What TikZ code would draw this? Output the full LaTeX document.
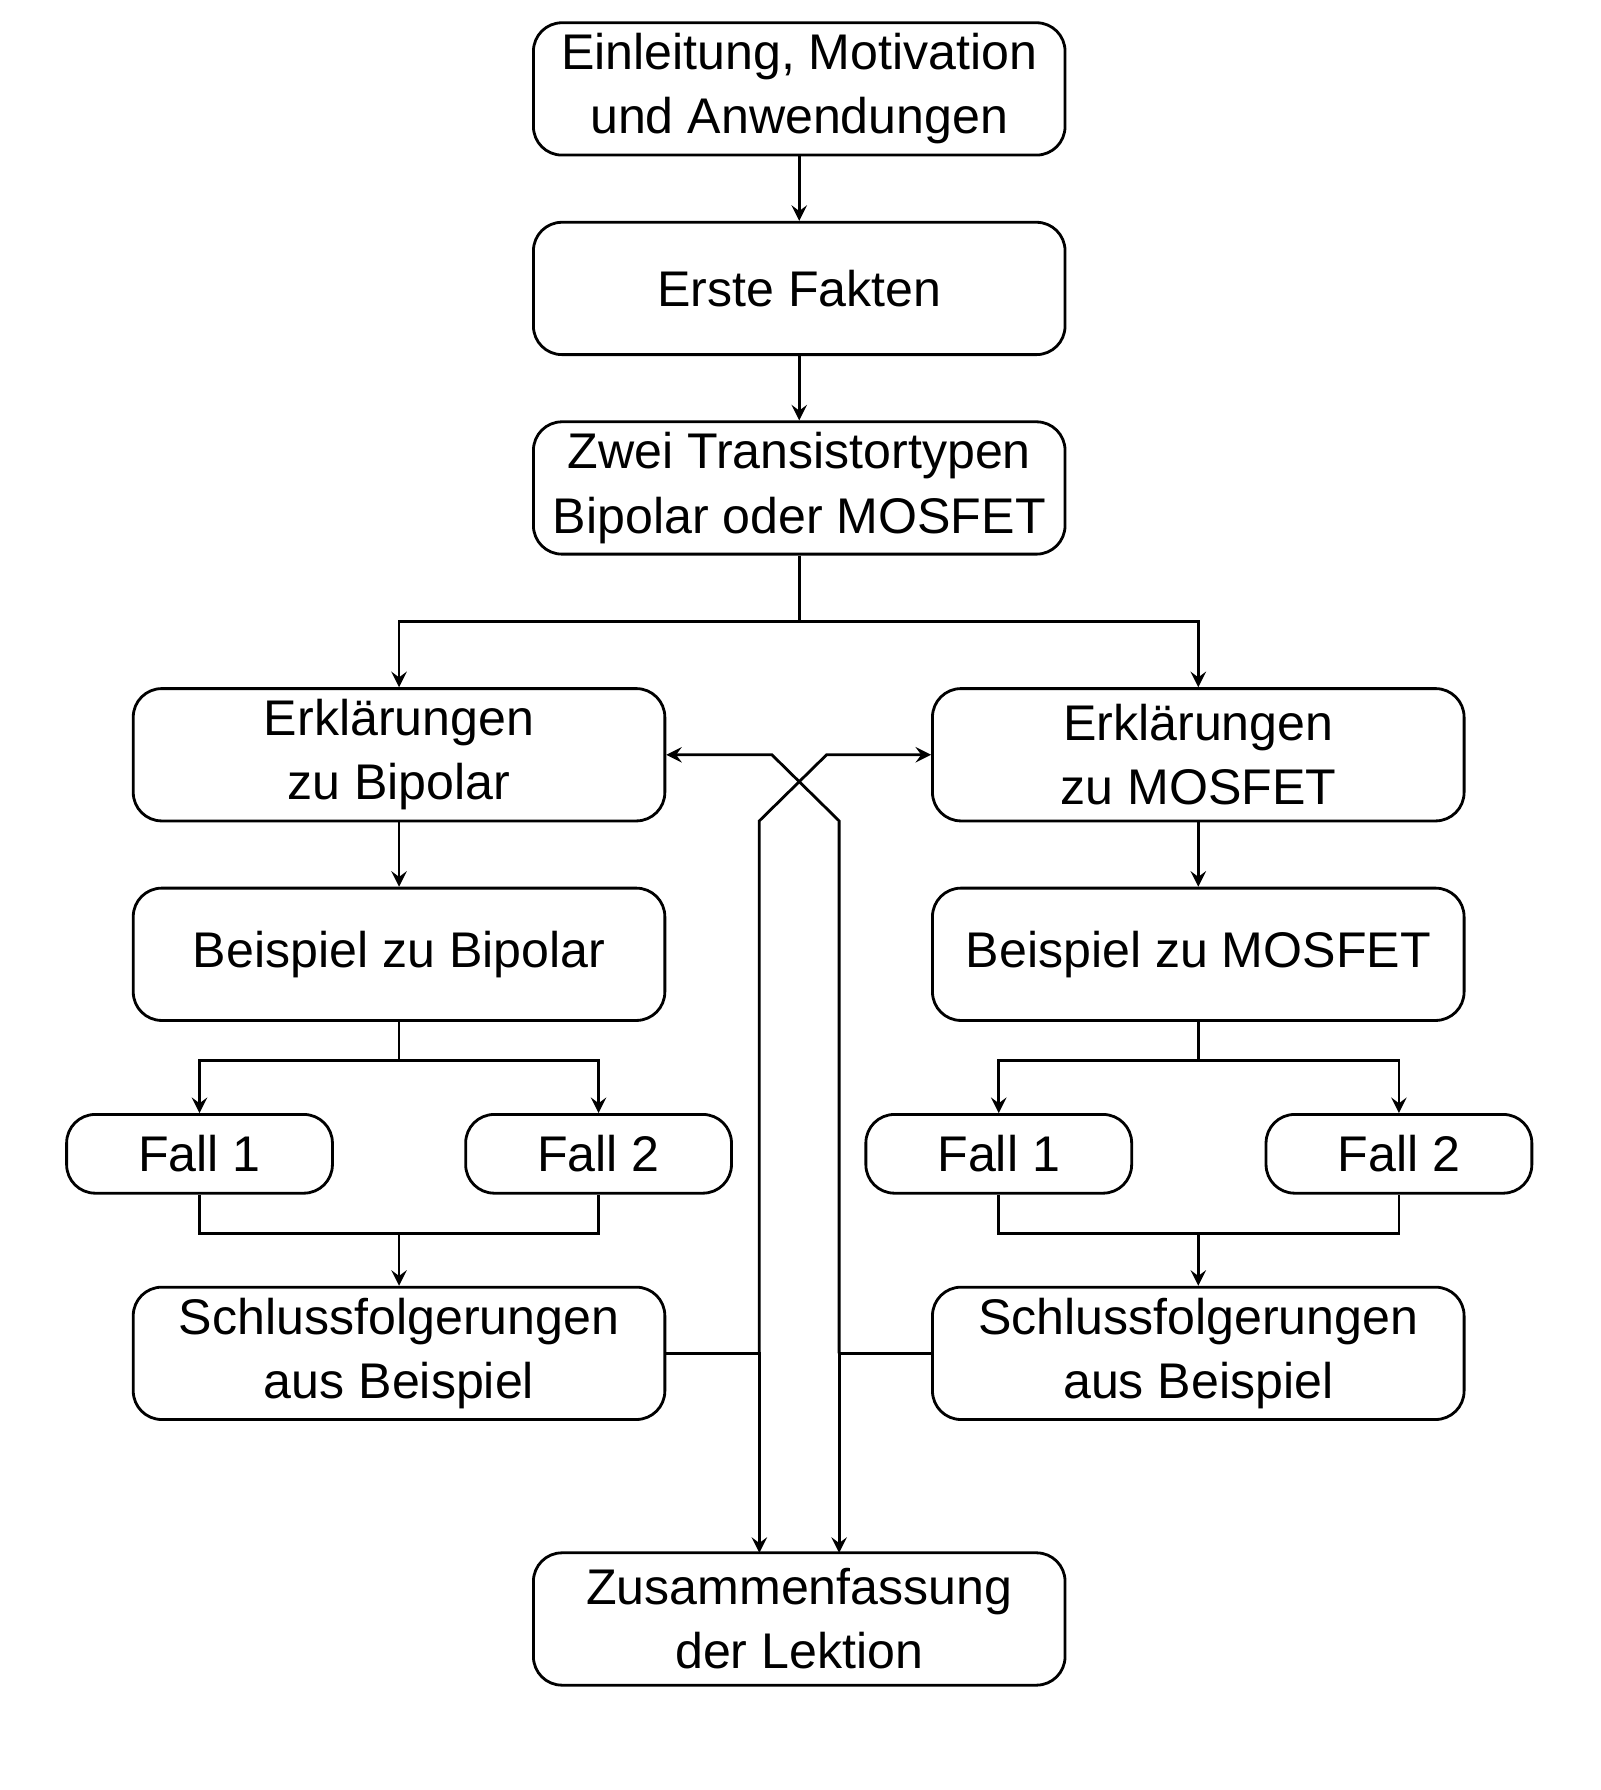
\documentclass[tikz,border=0pt]{standalone}
\usepackage{fontspec}
\setmainfont{Liberation Sans}
\usetikzlibrary{positioning}

\begin{document}
\begin{tikzpicture}[x=0.01cm,y=-0.01cm,line width=0.7pt,>=stealth]
    \tikzstyle{box}=[draw,rounded corners=0.25cm,minimum width=4.66cm,minimum height=1.16cm,align=center,inner sep=0pt,font=\fontsize{12.5}{16}\selectfont]
    \tikzstyle{fall}=[box,minimum width=2.33cm,minimum height=0.69cm]
    \useasboundingbox (0,0) rectangle (1404,1570);
    % linke und mittlere Spalte
    \node [box] (einl) at (701,78) {Einleitung, Motivation\\und Anwendungen};
    \node [box] (fakten) at (701,253) {Erste Fakten};
    \node [box] (typen) at (701,428) {Zwei Transistortypen\\Bipolar oder MOSFET};
    \node [box] (erklB) at (350,662) {Erklärungen\\zu Bipolar};
    \node [box] (erklM) at (1051,662) {Erklärungen\\zu MOSFET};
    \node [box] (beispB) at (350,837) {Beispiel zu Bipolar};
    \node [box] (beispM) at (1051,837) {Beispiel zu MOSFET};
    \node [fall] (fallB1) at (175,1012) {Fall 1};
    \node [fall] (fallB2) at (525,1012) {Fall 2};
    \node [fall] (fallM1) at (876,1012) {Fall 1};
    \node [fall] (fallM2) at (1227,1012) {Fall 2};
    \node [box] (schlB) at (350,1187) {Schlussfolgerungen\\aus Beispiel};
    \node [box] (schlM) at (1051,1187) {Schlussfolgerungen\\aus Beispiel};
    \node [box] (zus) at (701,1420) {Zusammenfassung\\der Lektion};
    % Verbindungen
    \draw [->] (einl) -- (fakten);
    \draw [->] (fakten) -- (typen);
    \draw [->] (typen.south) -- (701,545) -| (erklB.north);
    \draw [->] (typen.south) -- (701,545) -| (erklM.north);
    \draw [->] (erklB) -- (beispB);
    \draw [->] (erklM) -- (beispM);
    \draw [->] (beispB.south) -- (350,930) -| (fallB1.north);
    \draw [->] (beispB.south) -- (350,930) -| (fallB2.north);
    \draw [->] (beispM.south) -- (1051,930) -| (fallM1.north);
    \draw [->] (beispM.south) -- (1051,930) -| (fallM2.north);
    \draw [->] (fallB1.south) |- (350,1082) -| (fallB2.south) (350,1082) -- (schlB.north);
    \draw [->] (fallM1.south) |- (1051,1082) -| (fallM2.south) (1051,1082) -- (schlM.north);
    % Kreuzung
    \coordinate (kl) at (666,1187);
    \coordinate (kr) at (736,1187);
    \draw [->] (schlB.east) -- (kl) -- (666,1362);
    \draw [->] (schlM.west) -- (kr) -- (736,1362);
    \draw [->] (kl) -- (666,720) -- (725,662) -- (erklM.west);
    \draw [->] (kr) -- (736,720) -- (677,662) -- (erklB.east);
\end{tikzpicture}
\end{document}
